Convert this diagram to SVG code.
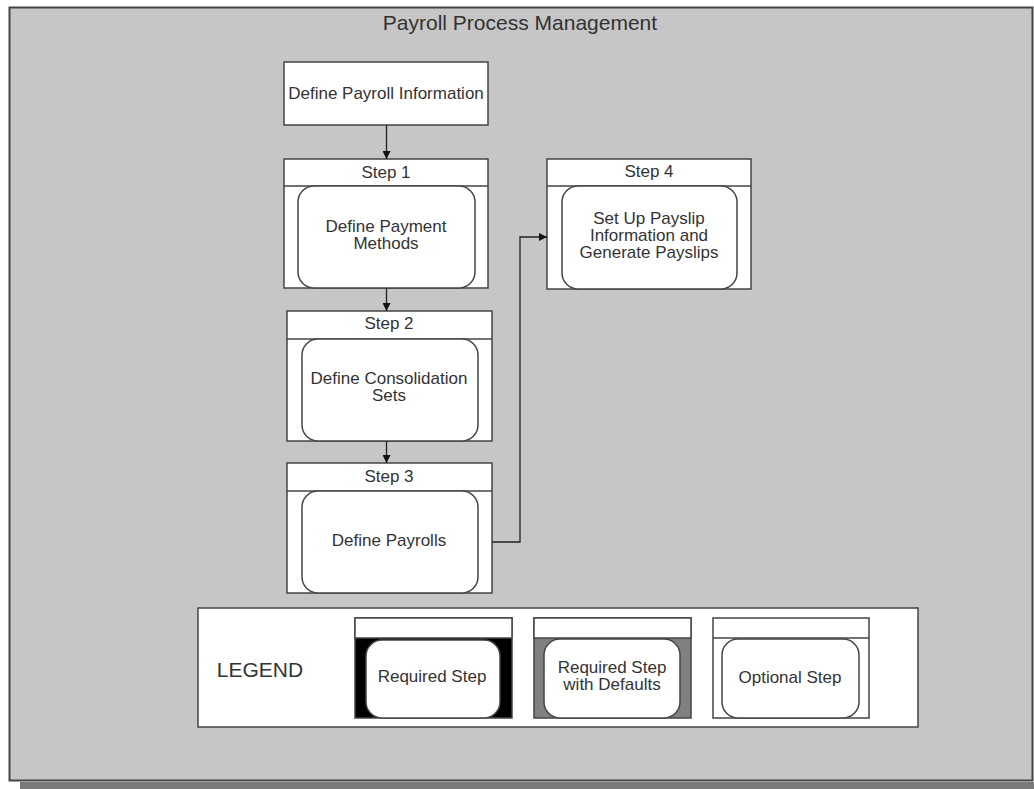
<svg xmlns="http://www.w3.org/2000/svg" width="1034" height="789" viewBox="0 0 1034 789">
<style>
  text { font-family: "Liberation Sans", Arial, sans-serif; fill: #333; text-anchor: middle; }
  .t { font-size: 17px; }
  .big { font-size: 21px; }
  .box { fill: #fff; stroke: #444; stroke-width: 1.5; }
  .rr { fill: #fff; stroke: #444; stroke-width: 1.5; }
  .hdr { stroke: #444; stroke-width: 1.5; }
  .conn { fill: none; stroke: #222; stroke-width: 1.3; }
</style>
<defs>
  <marker id="arr" viewBox="0 0 10 10" refX="10" refY="5" markerWidth="9" markerHeight="8" markerUnits="userSpaceOnUse" orient="auto">
    <path d="M0,0 L10,5 L0,10 z" fill="#111"/>
  </marker>
</defs>
<rect width="1034" height="789" fill="#ffffff"/>
<g id="frame">
  <rect x="20" y="782" width="1014" height="7" fill="#7a7a7a"/>
  <rect x="9.5" y="7.5" width="1023" height="773" fill="#c6c6c6" stroke="#444" stroke-width="2"/>
  <text class="big" x="520" y="30">Payroll Process Management</text>
</g>
<g id="define-payroll-info">
  <rect class="box" x="284" y="62" width="204" height="63"/>
  <text class="t" x="386" y="98.5">Define Payroll Information</text>
</g>
<g id="step1">
  <rect class="box" x="284" y="159" width="204" height="129"/>
  <line class="hdr" x1="284" y1="186" x2="488" y2="186"/>
  <text class="t" x="386" y="178">Step 1</text>
  <rect class="rr" x="298" y="186" width="177" height="102" rx="16"/>
  <text class="t" x="386" y="232"><tspan x="386">Define Payment</tspan><tspan x="386" dy="17">Methods</tspan></text>
</g>
<g id="step2">
  <rect class="box" x="287" y="311" width="205" height="130"/>
  <line class="hdr" x1="287" y1="339" x2="492" y2="339"/>
  <text class="t" x="389" y="329">Step 2</text>
  <rect class="rr" x="302" y="339" width="176" height="102" rx="16"/>
  <text class="t" x="389" y="384"><tspan x="389">Define Consolidation</tspan><tspan x="389" dy="17">Sets</tspan></text>
</g>
<g id="step3">
  <rect class="box" x="287" y="463" width="205" height="130"/>
  <line class="hdr" x1="287" y1="491" x2="492" y2="491"/>
  <text class="t" x="389" y="482">Step 3</text>
  <rect class="rr" x="302" y="491" width="176" height="102" rx="16"/>
  <text class="t" x="389" y="546">Define Payrolls</text>
</g>
<g id="step4">
  <rect class="box" x="547" y="159" width="204" height="130"/>
  <line class="hdr" x1="547" y1="186" x2="751" y2="186"/>
  <text class="t" x="649" y="177">Step 4</text>
  <rect class="rr" x="562" y="186" width="175" height="103" rx="16"/>
  <text class="t" x="649" y="224"><tspan x="649">Set Up Payslip</tspan><tspan x="649" dy="17">Information and</tspan><tspan x="649" dy="17">Generate Payslips</tspan></text>
</g>
<g id="connectors">
  <line class="conn" x1="386.5" y1="125" x2="386.5" y2="159" marker-end="url(#arr)"/>
  <line class="conn" x1="386.5" y1="288" x2="386.5" y2="311" marker-end="url(#arr)"/>
  <line class="conn" x1="386.5" y1="441" x2="386.5" y2="463" marker-end="url(#arr)"/>
  <polyline class="conn" points="492,542 520,542 520,237 547,237" marker-end="url(#arr)"/>
</g>
<g id="legend">
  <rect x="198" y="608" width="720" height="119" fill="#fff" stroke="#444" stroke-width="1.5"/>
  <text class="big" x="260" y="677">LEGEND</text>
</g>
<g id="legend-required">
  <rect x="355" y="618" width="157" height="100" fill="#000" stroke="#444" stroke-width="1.5"/>
  <rect x="355" y="618" width="157" height="20" fill="#fff" stroke="#444" stroke-width="1.5"/>
  <rect class="rr" x="366" y="640" width="134" height="78" rx="16"/>
  <text class="t" x="432" y="682">Required Step</text>
</g>
<g id="legend-defaults">
  <rect x="534" y="618" width="157" height="100" fill="#808080" stroke="#444" stroke-width="1.5"/>
  <rect x="534" y="618" width="157" height="20" fill="#fff" stroke="#444" stroke-width="1.5"/>
  <rect class="rr" x="544" y="639" width="136" height="79" rx="16"/>
  <text class="t" x="612" y="673"><tspan x="612">Required Step</tspan><tspan x="612" dy="17">with Defaults</tspan></text>
</g>
<g id="legend-optional">
  <rect x="713" y="618" width="156" height="100" fill="#fff" stroke="#444" stroke-width="1.5"/>
  <line class="hdr" x1="713" y1="638" x2="869" y2="638"/>
  <rect class="rr" x="722" y="639" width="137" height="79" rx="16"/>
  <text class="t" x="790" y="683">Optional Step</text>
</g>
</svg>
